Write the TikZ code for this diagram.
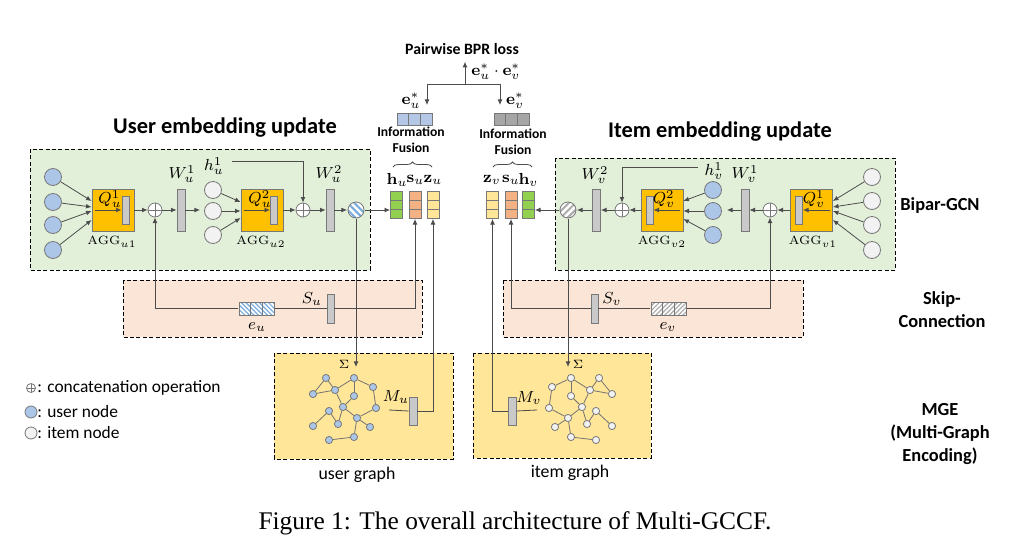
\documentclass[tikz,border=0pt]{standalone}
\usepackage[no-math]{fontspec}
\usepackage{amsmath,amssymb}
\setmainfont{Carlito}
\newfontfamily\capfont{Liberation Serif}
\usetikzlibrary{arrows.meta, patterns.meta, decorations.pathreplacing, calc}

\definecolor{gcnfill}{RGB}{226,240,217}
\definecolor{skipfill}{RGB}{251,229,214}
\definecolor{mgefill}{RGB}{255,230,153}
\definecolor{aggfill}{RGB}{255,192,0}
\definecolor{barfill}{RGB}{201,201,201}
\definecolor{userblue}{RGB}{172,198,232}
\definecolor{itemgray}{RGB}{242,242,242}
\definecolor{vecgreen}{RGB}{146,208,80}
\definecolor{vecorange}{RGB}{244,177,131}
\definecolor{vecyellow}{RGB}{255,230,153}
\definecolor{vecblue}{RGB}{180,199,231}
\definecolor{vecgray}{RGB}{166,166,166}
\definecolor{edgegray}{RGB}{120,120,120}
\definecolor{stripeblue}{RGB}{120,170,220}
\definecolor{stripegray}{RGB}{170,170,170}

\newcommand{\ppb}{path picture bounding box}

\begin{document}
\begin{tikzpicture}[
  x=0.5pt, y=-0.5pt,
  panel/.style={draw, dash pattern=on 2pt off 1.2pt, line width=0.5pt},
  arr/.style={-{Latex[length=2.8pt,width=2.4pt]}, draw=black!70, line width=0.4pt},
  link/.style={draw=black!70, line width=0.4pt},
  gedge/.style={draw=black!55, line width=0.4pt},
  unode/.style={circle, draw=edgegray, fill=userblue, minimum size=8.5pt, inner sep=0pt},
  inode/.style={circle, draw=edgegray, fill=itemgray, minimum size=8.5pt, inner sep=0pt},
  gnode/.style={circle, draw=edgegray, minimum size=3.6pt, inner sep=0pt},
  aggbox/.style={draw=edgegray, fill=aggfill, minimum size=21pt, inner sep=0pt},
  wbar/.style={draw=edgegray, fill=barfill, minimum width=4pt, minimum height=21pt, inner sep=0pt},
  qbar/.style={wbar, minimum width=3.5pt, minimum height=14pt},
  sbar/.style={wbar, minimum width=3.5pt, minimum height=14.5pt},
  mbar/.style={wbar, minimum width=4pt, minimum height=14pt},
  oplus/.style={circle, draw=edgegray, fill=white, minimum size=7pt, inner sep=0pt,
    path picture={\draw[edgegray] (\ppb.north) -- (\ppb.south) (\ppb.west) -- (\ppb.east);}},
  vvec/.style={draw=edgegray, minimum width=6pt, minimum height=13.5pt, inner sep=0pt,
    path picture={\draw[edgegray]
      ($(\ppb.south west)!1/3!(\ppb.north west)$) -- ($(\ppb.south east)!1/3!(\ppb.north east)$)
      ($(\ppb.south west)!2/3!(\ppb.north west)$) -- ($(\ppb.south east)!2/3!(\ppb.north east)$);}},
  hvec/.style={draw=edgegray, minimum width=17.5pt, minimum height=6pt, inner sep=0pt,
    path picture={\draw[edgegray]
      ($(\ppb.south west)!1/3!(\ppb.south east)$) -- ($(\ppb.north west)!1/3!(\ppb.north east)$)
      ($(\ppb.south west)!2/3!(\ppb.south east)$) -- ($(\ppb.north west)!2/3!(\ppb.north east)$);}},
  hatchu/.style={preaction={fill=white}, pattern={Lines[angle=-45, distance=2.4pt, line width=1pt]}, pattern color=stripeblue},
  hatchv/.style={preaction={fill=white}, pattern={Lines[angle=45, distance=2.4pt, line width=1pt]}, pattern color=stripegray},
  hcirc/.style={circle, draw=edgegray, minimum size=8pt, inner sep=0pt},
  mlabel/.style={font=\fontsize{8}{9}\selectfont, inner sep=0pt},
  alabel/.style={font=\fontsize{6.5}{7.5}\selectfont, inner sep=0pt},
  vlabel/.style={font=\fontsize{8.5}{10}\selectfont, inner sep=0pt},
  title/.style={font=\bfseries\fontsize{11.2}{13}\selectfont},
  fusion/.style={font=\bfseries\fontsize{6.8}{8}\selectfont, align=center, inner sep=0pt},
  side/.style={font=\bfseries\fontsize{9.2}{11.5}\selectfont, align=center},
  glabel/.style={font=\fontsize{8.9}{10}\selectfont},
  legend/.style={font=\fontsize{8.7}{10}\selectfont, inner sep=0pt, anchor=west},
  brace/.style={decorate, decoration={brace, amplitude=2.5pt}, draw=black!70, line width=0.4pt}
]
\useasboundingbox[fill=white] (0,0) rectangle (1014,541);

% panels
\path[panel, fill=gcnfill] (30,149) rectangle (370,270);
\path[panel, fill=gcnfill] (555,158) rectangle (895,270);
\path[panel, fill=skipfill] (123,280) rectangle (422,337);
\path[panel, fill=skipfill] (503,280) rectangle (803,337);
\path[panel, fill=mgefill] (274,353) rectangle (453,459);
\path[panel, fill=mgefill] (473,353) rectangle (651,458);

\node[title] (usertitle) at (225,128) {User embedding update};
\node[title] (itemtitle) at (720,132) {Item embedding update};

% user side of Bipar-GCN
\foreach \i/\y in {1/177, 2/202, 3/225, 4/250}
  \node[unode] (ul\i) at (53,\y) {};
\node[aggbox] (qu1) at (113,210) {};
\node[qbar] (qu1bar) at (125.5,210) {};
\node[mlabel] at (110,199) {$Q_u^1$};
\node[alabel] at (112,242) {$\mathrm{AGG}_{u1}$};
\node[oplus] (cu1) at (155,210) {};
\node[wbar] (wu1) at (181,210) {};
\node[mlabel] at (182,174) {$W_u^1$};
\coordinate (wu1out) at (200,210);
\foreach \i/\y in {1/190, 2/211, 3/235}
  \node[inode] (ui\i) at (213,\y) {};
\node[mlabel] (hu1) at (214,166) {$h_u^1$};
\node[aggbox] (qu2) at (262,210) {};
\node[qbar] (qu2bar) at (274,210) {};
\node[mlabel] at (260,199) {$Q_u^2$};
\node[alabel] at (261,242) {$\mathrm{AGG}_{u2}$};
\node[oplus] (cu2) at (303,210) {};
\node[wbar] (wu2) at (330,210) {};
\node[mlabel] at (329,174) {$W_u^2$};
\node[hcirc, hatchu] (hu) at (356,210) {};

\draw[arr] (ul1) -- ([yshift=4.5pt]qu1.west);
\draw[arr] (ul2) -- ([yshift=1.5pt]qu1.west);
\draw[arr] (ul3) -- ([yshift=-0.5pt]qu1.west);
\draw[arr] (ul4) -- ([yshift=-5pt]qu1.west);
\draw[arr] ([xshift=1.5pt]qu1.west) -- (qu1bar.west);
\draw[arr] (qu1) -- (cu1);
\draw[arr] (cu1) -- (wu1);
\draw[arr] (wu1) -- (wu1out);
\draw[arr] (ui1) -- ([yshift=4pt]qu2.west);
\draw[arr] (ui2) -- ([yshift=-0.5pt]qu2.west);
\draw[arr] (ui3) -- ([yshift=-4pt]qu2.west);
\draw[arr] ([xshift=1.5pt]qu2.west) -- (qu2bar.west);
\draw[arr] (qu2) -- (cu2);
\draw[arr] ([xshift=4pt,yshift=2.5pt]hu1.east) -| (cu2.north);
\draw[arr] (cu2) -- (wu2);
\draw[arr] (wu2) -- (hu);

% item side of Bipar-GCN
\foreach \i/\y in {1/177, 2/201, 3/225, 4/250}
  \node[inode] (vi\i) at (872,\y) {};
\node[aggbox] (qv1) at (811.5,210) {};
\node[qbar] (qv1bar) at (799,210) {};
\node[mlabel] at (814,199) {$Q_v^1$};
\node[alabel] at (813,242) {$\mathrm{AGG}_{v1}$};
\node[oplus] (cv1) at (770,210) {};
\node[wbar] (wv1) at (745,210) {};
\node[mlabel] at (745,174) {$W_v^1$};
\coordinate (wv1out) at (727,210);
\foreach \i/\y in {1/190, 2/211, 3/235}
  \node[unode] (vu\i) at (713,\y) {};
\node[mlabel] (hv1) at (714,171) {$h_v^1$};
\node[aggbox] (qv2) at (662,210) {};
\node[qbar] (qv2bar) at (649.5,210) {};
\node[mlabel] at (664,199) {$Q_v^2$};
\node[alabel] at (662,242) {$\mathrm{AGG}_{v2}$};
\node[oplus] (cv2) at (622,210) {};
\node[wbar] (wv2) at (596.5,210) {};
\node[mlabel] at (595,175) {$W_v^2$};
\node[hcirc, hatchv] (hv) at (568,210) {};

\draw[arr] (vi1) -- ([yshift=4.5pt]qv1.east);
\draw[arr] (vi2) -- ([yshift=1.5pt]qv1.east);
\draw[arr] (vi3) -- ([yshift=-0.5pt]qv1.east);
\draw[arr] (vi4) -- ([yshift=-5pt]qv1.east);
\draw[arr] ([xshift=-1.5pt]qv1.east) -- (qv1bar.east);
\draw[arr] (qv1) -- (cv1);
\draw[arr] (cv1) -- (wv1);
\draw[arr] (wv1) -- (wv1out);
\draw[arr] (vu1) -- ([yshift=4.5pt]qv2.east);
\draw[arr] (vu2) -- ([yshift=-0.5pt]qv2.east);
\draw[arr] (vu3) -- ([yshift=-4.5pt]qv2.east);
\draw[arr] ([xshift=-1.5pt]qv2.east) -- (qv2bar.east);
\draw[arr] (qv2) -- (cv2);
\draw[arr] ([xshift=-3pt,yshift=2pt]hv1.west) -| (cv2.north);
\draw[arr] (cv2) -- (wv2);
\draw[arr] (wv2) -- (hv);

% information fusion
\node[vvec, fill=vecgreen] (hvu) at (396.5,205) {};
\node[vvec, fill=vecorange] (svu) at (415,205) {};
\node[vvec, fill=vecyellow] (zvu) at (433,205) {};
\node[vvec, fill=vecyellow] (zvv) at (492.5,205) {};
\node[vvec, fill=vecorange] (svv) at (511,205) {};
\node[vvec, fill=vecgreen] (hvv) at (528.5,205) {};
\node[vlabel] at (397,180) {$\mathbf{h}_u$};
\node[vlabel] at (415.5,180) {$\mathbf{s}_u$};
\node[vlabel] at (433,180) {$\mathbf{z}_u$};
\node[vlabel] at (492,180) {$\mathbf{z}_v$};
\node[vlabel] at (511,180) {$\mathbf{s}_u$};
\node[vlabel] at (528.5,180) {$\mathbf{h}_v$};
\draw[arr] (hu) -- (hu -| hvu.west);
\draw[arr] (hv) -- (hv -| hvv.east);

\draw[brace] (393,167) -- (432,167);
\draw[brace] (493,167) -- (532,167);
\node[fusion] at (411,140) {Information\\Fusion};
\node[fusion] at (513,142) {Information\\Fusion};
\node[hvec, fill=vecblue] (eus) at (414.5,119) {};
\node[hvec, fill=vecgray] (evs) at (511.5,119) {};
\node[vlabel] at (411,101) {$\mathbf{e}_u^*$};
\node[vlabel] at (515,101) {$\mathbf{e}_v^*$};

\node[font=\bfseries\fontsize{7.9}{9}\selectfont] (bpr) at (462,49) {Pairwise BPR loss};
\coordinate (split) at (465,84);
\coordinate (eutip) at (427,105);
\coordinate (evtip) at (500,105);
\draw[arr] (split) -- (split |- bpr.south);
\draw[arr] (split) -| (eutip);
\draw[arr] (split) -| (evtip);
\node[vlabel, anchor=west] at (471,72) {$\mathbf{e}_u^*\cdot\mathbf{e}_v^*$};

% skip connection
\node[hvec, minimum height=6.5pt, hatchu, pattern={Lines[angle=-45, distance=1.6pt, line width=0.6pt]}] (eu) at (256.5,308.5) {};
\node[sbar] (Su) at (330.5,308.5) {};
\node[mlabel] at (257,327) {$e_u$};
\node[mlabel] at (312,299) {$S_u$};
\draw[arr] (eu.west) -| (cu1.south);
\draw[link] (eu.east) -- (Su.west);
\draw[arr] (Su.east) -| (svu.south);

\node[sbar] (Sv) at (594.5,308.5) {};
\node[hvec, minimum height=6.5pt, hatchv, pattern={Lines[angle=45, distance=1.6pt, line width=0.6pt]}] (ev) at (668.5,308.5) {};
\node[mlabel] at (612,299) {$S_v$};
\node[mlabel] at (668,327) {$e_v$};
\draw[arr] (ev.east) -| (cv1.south);
\draw[link] (ev.west) -- (Sv.east);
\draw[arr] (Sv.west) -| (svv.south);

% multi-graph encoding
\foreach \n/\x/\y in {a/326/378, b/313/394, c/335/390, d/354/378, e/373/387,
    f/354/396, g/343/407, h/329/411, i/376/408, j/357/418, k/338/424,
    l/313/426, m/370/427, n/354/437, o/329/440} {
  \node[gnode, fill=userblue] (ug\n) at (\x,\y) {};
  \node[gnode, fill=itemgray] (ig\n) at (925-\x,\y) {};
}
\foreach \a/\b in {a/b, b/c, a/c, c/d, c/g, d/f, d/e, f/g, e/i, i/j, g/j,
    j/m, j/n, n/o, l/h, h/k, k/g} {
  \draw[gedge] (ug\a) -- (ug\b);
  \draw[gedge] (ig\a) -- (ig\b);
}

\coordinate (sigu) at (356,367);
\draw[arr] (hu.south) -- (sigu);
\node[alabel] at (344,364) {$\Sigma$};
\node[mbar] (Mu) at (413,411) {};
\node[mlabel] at (396,397) {$M_u$};
\coordinate (muin) at (389,410);
\draw[link] (muin) -- (Mu.west);
\draw[arr] (Mu.east) -| (zvu.south);
\node[glabel] at (357,475) {user graph};

\coordinate (sigv) at (568,367);
\draw[arr] (hv.south) -- (sigv);
\node[alabel] at (578,364) {$\Sigma$};
\node[mbar] (Mv) at (512,411) {};
\node[mlabel] at (529,398) {$M_v$};
\coordinate (mvout) at (537,410);
\draw[link] (Mv.east) -- (mvout);
\draw[arr] (Mv.west) -| (zvv.south);
\node[glabel] at (570,473) {item graph};

% legend
\node[oplus, minimum size=4.5pt] (lgc) at (31,388) {};
\node[legend] at (37,388) {: concatenation operation};
\node[unode, minimum size=6pt] (lgu) at (31,412) {};
\node[legend] at (37,412) {: user node};
\node[inode, minimum size=6pt] (lgi) at (31,433) {};
\node[legend] at (37,433) {: item node};

% row labels
\node[side] at (940,205) {Bipar-GCN};
\node[side] at (942,310) {Skip-\\Connection};
\node[side] at (940,434) {MGE\\(Multi-Graph\\Encoding)};

\node[font=\capfont\fontsize{12.7}{14}\selectfont] at (515,523) {Figure 1: The overall architecture of Multi-GCCF.};
\end{tikzpicture}
\end{document}
